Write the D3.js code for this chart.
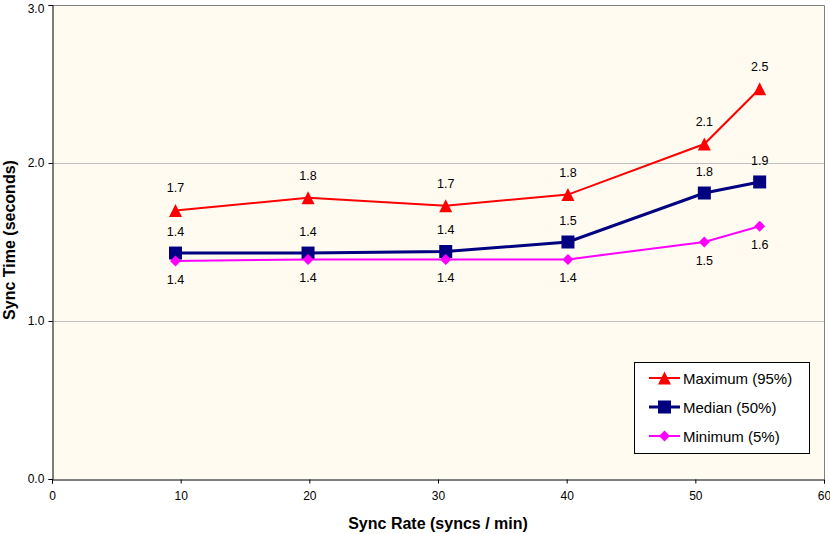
<!DOCTYPE html>
<html><head><meta charset="utf-8">
<script src="https://cdn.jsdelivr.net/npm/d3@7"></script>
<style>body{margin:0;background:#fff}svg{display:block}text{font-family:"Liberation Sans",Arial,sans-serif}</style>
</head><body><svg id="c" width="830" height="534"></svg>
<script>
const xValues = [9.6, 19.9, 30.6, 40.1, 50.7, 55.0];
const maxValues = [1.70, 1.78, 1.73, 1.80, 2.12, 2.47];
const medianValues = [1.43, 1.43, 1.44, 1.50, 1.81, 1.88];
const minValues = [1.38, 1.39, 1.39, 1.39, 1.50, 1.60];
const seriesNames = ["Maximum (95%)", "Median (50%)", "Minimum (5%)"];
const xTicks = [0, 10, 20, 30, 40, 50, 60];
const yTicks = [0, 1, 2, 3];

const svg = d3.select("#c");
const L = 52, R = 824, T = 5, B = 479;
const x = d3.scaleLinear().domain([0, 60]).range([L, R]);
const y = d3.scaleLinear().domain([0, 3]).range([B, T]);

const triSym = {draw(ctx) { ctx.moveTo(0, -6.5); ctx.lineTo(6.5, 6.5); ctx.lineTo(-6.5, 6.5); ctx.closePath(); }};
const sqSym = {draw(ctx) { ctx.rect(-6.5, -6.5, 13, 13); }};
const diaSym = {draw(ctx) { ctx.moveTo(0, -5.5); ctx.lineTo(5.5, 0); ctx.lineTo(0, 5.5); ctx.lineTo(-5.5, 0); ctx.closePath(); }};

svg.append("rect").attr("x", L).attr("y", T).attr("width", R - L).attr("height", B - T).attr("fill", "#FFFBF0");
svg.append("g").selectAll("line").data([1, 2]).join("line")
  .attr("x1", L).attr("x2", R).attr("y1", d => y(d) + 0.5).attr("y2", d => y(d) + 0.5)
  .attr("stroke", "#C0C0C0");
svg.append("path").attr("d", `M${L},${T + 0.5}H${R + 0.5}V${B}`).attr("fill", "none").attr("stroke", "#808080");

const xAxis = svg.append("g").attr("transform", `translate(0,${B + 0.5})`)
  .call(d3.axisBottom(x).tickValues(xTicks).tickSize(4).tickFormat(d3.format("d")));
const yAxis = svg.append("g").attr("transform", `translate(${L + 0.5},0)`)
  .call(d3.axisLeft(y).tickValues(yTicks).tickSize(4).tickFormat(d3.format(".1f")));
[xAxis, yAxis].forEach(g => {
  g.select(".domain").attr("stroke", "#000");
  g.selectAll(".tick line").attr("stroke", "#000");
  g.selectAll("text").attr("font-size", 12).attr("fill", "#000").attr("font-family", "Liberation Sans, Arial, sans-serif");
});
xAxis.selectAll("text").attr("dy", "1.1em");
yAxis.selectAll("text").attr("dx", "-0.1em");
yAxis.selectAll(".tick").filter(d => d === 3).select("text").attr("dy", "0.6em");

svg.append("text").attr("x", 438).attr("y", 529).attr("text-anchor", "middle")
  .attr("font-size", 16).attr("font-weight", "bold").text("Sync Rate (syncs / min)");
svg.append("text").attr("transform", "translate(15,240) rotate(-90)").attr("text-anchor", "middle")
  .attr("font-size", 16).attr("font-weight", "bold").text("Sync Time (seconds)");

const series = [
  {vals: maxValues, color: "#FF0000", w: 2, sym: triSym, lab: -18},
  {vals: medianValues, color: "#000080", w: 3, sym: sqSym, lab: -17},
  {vals: minValues, color: "#FF00FF", w: 2, sym: diaSym, lab: 23}
];
const line = d3.line().x(d => x(d[0])).y(d => y(d[1]));
series.forEach(s => {
  const pts = xValues.map((v, i) => [v, s.vals[i]]);
  svg.append("path").datum(pts).attr("d", line).attr("fill", "none").attr("stroke", s.color).attr("stroke-width", s.w);
  svg.append("g").selectAll("path").data(pts).join("path")
    .attr("transform", d => `translate(${x(d[0])},${y(d[1])})`)
    .attr("d", d3.symbol().type(s.sym).size(1)).attr("fill", s.color);
  svg.append("g").selectAll("text").data(pts).join("text")
    .attr("x", d => x(d[0])).attr("y", d => y(d[1]) + s.lab)
    .attr("text-anchor", "middle").attr("font-size", 12.5).text(d => d3.format(".1f")(d[1]));
});

const lg = svg.append("g");
lg.append("rect").attr("x", 634.5).attr("y", 362.5).attr("width", 175).attr("height", 91).attr("fill", "#fff").attr("stroke", "#000");
const ly = [378, 407, 436];
series.forEach((s, i) => {
  lg.append("line").attr("x1", 649).attr("x2", 680).attr("y1", ly[i]).attr("y2", ly[i]).attr("stroke", s.color).attr("stroke-width", s.w);
  lg.append("path").attr("transform", `translate(664.5,${ly[i]})`).attr("d", d3.symbol().type(s.sym).size(1)).attr("fill", s.color);
  lg.append("text").attr("x", 683).attr("y", ly[i] + 5.5).attr("font-size", 15).text(seriesNames[i]);
});
</script></body></html>
